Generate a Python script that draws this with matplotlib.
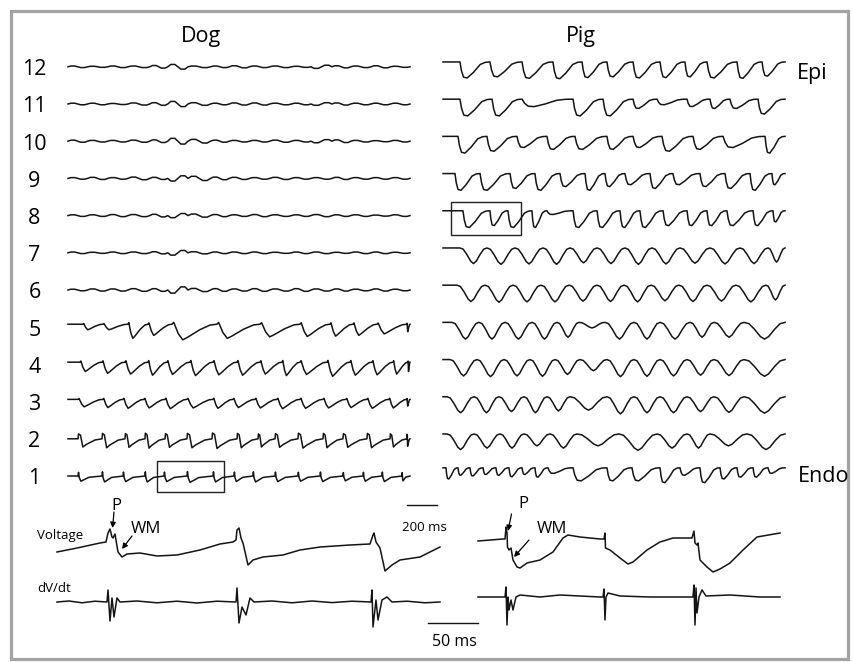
import matplotlib
matplotlib.use("Agg")
import matplotlib.pyplot as plt
from matplotlib.patches import Rectangle

# ---------------- data ----------------
T_END = 2280.0  # ms shown in each trace row

# beat templates (phase within a beat, relative amplitude)
DOG_TICK_T = [0.0, 0.02, 0.05, 0.12, 0.45, 1.0]
DOG_TICK_V = [0.0, 0.7, -0.3, -1.0, -0.25, 0.0]
DOG_STEP_T = [0.0, 0.02, 0.10, 0.20, 0.34, 0.70, 1.0]
DOG_STEP_V = [0.0, 0.6, 0.45, -1.0, -0.7, -0.15, 0.0]
DOG_SAW_T = [0.0, 0.04, 0.14, 0.24, 0.34, 0.62, 0.85, 1.0]
DOG_SAW_V = [0.0, 0.12, -0.6, -1.0, -0.85, -0.35, -0.05, 0.0]
RIPPLE_T = [0.0, 0.15, 0.35, 0.5, 0.65, 0.85, 1.0]
RIPPLE_V = [0.0, 0.7, 0.7, 0.0, -0.7, -0.7, 0.0]
PIG_U_T = [0.0, 0.12, 0.25, 0.40, 0.50, 0.60, 0.75, 0.88, 1.0]
PIG_U_V = [0.0, -0.08, -0.4, -0.85, -1.0, -0.85, -0.4, -0.08, 0.0]
PIG_DROP_T = [0.0, 0.05, 0.12, 0.24, 0.45, 0.68, 0.85, 1.0]
PIG_DROP_V = [0.0, -0.55, -0.95, -1.0, -0.65, -0.15, -0.02, 0.0]

# Dog rows 1-5: beat onsets (ms) and amplitudes (mV)
dog1_onsets = [67, 227, 367, 513, 640, 793, 967, 1107, 1233, 1380, 1533, 1680, 1833, 1967, 2093, 2227]
dog1_amps = [1.4, 1.6, 1.5, 1.6, 1.5, 1.7, 1.6, 1.5, 1.6, 1.5, 1.4, 1.5, 1.3, 1.4, 1.5, 1.3]
dog2_onsets = [67, 227, 380, 513, 647, 793, 960, 1127, 1267, 1380, 1533, 1700, 1833, 1993, 2147, 2260]
dog2_amps = [2.2, 2.4, 2.3, 2.5, 2.3, 2.4, 2.6, 2.4, 2.2, 2.3, 2.5, 2.4, 2.3, 2.4, 2.2, 2.0]
dog3_onsets = [67, 233, 367, 507, 647, 793, 967, 1100, 1247, 1393, 1547, 1700, 1853, 1993, 2140, 2260]
dog3_amps = [2.0, 2.2, 2.4, 2.3, 2.5, 2.3, 2.4, 2.2, 2.3, 2.5, 2.4, 2.3, 2.2, 2.4, 2.3, 1.8]
dog4_onsets = [80, 227, 380, 533, 660, 813, 967, 1127, 1280, 1427, 1547, 1727, 1880, 2027, 2167, 2267]
dog4_amps = [2.5, 3.0, 3.2, 3.5, 3.3, 3.6, 3.4, 3.5, 3.2, 3.6, 3.3, 3.8, 3.5, 3.4, 3.2, 2.5]
dog5_onsets = [100, 233, 400, 533, 693, 993, 1280, 1547, 1747, 1900, 2060, 2260]
dog5_amps = [1.5, 1.5, 3.8, 3.0, 4.2, 3.8, 3.4, 3.3, 3.2, 3.0, 2.6, 2.0]

# Dog rows 6-12: low-amplitude ripple
ripple_onsets = [0, 130, 265, 400, 545, 665, 800, 950, 1075, 1210, 1345, 1490, 1620, 1760, 1885, 2020, 2150]
dog6_amps = [0.3, 0.4, 0.4, 0.5, 0.5, -1.2, 0.6, 0.5, 0.4, 0.5, 0.4, 0.5, 0.4, 0.4, 0.3, 0.4, 0.3]
dog7_amps = [0.3, 0.2, 0.3, 0.3, 0.4, -0.9, 0.4, 0.3, 0.3, 0.3, 0.2, 0.3, 0.3, 0.2, 0.3, 0.3, 0.2]
dog8_amps = [0.3, 0.3, 0.4, 0.4, 0.5, -0.8, 0.6, 0.4, 0.3, 0.4, 0.3, 0.3, 0.4, 0.3, 0.3, 0.2, 0.3]
dog9_amps = [0.3, 0.4, 0.3, 0.5, 0.4, -1.0, 0.8, 0.5, 0.4, 0.3, 0.4, 0.3, 0.3, 0.4, 0.3, 0.3, 0.3]
dog10_amps = [0.4, 0.3, 0.3, 0.4, 0.5, 1.1, 0.7, 0.4, 0.3, 0.3, 0.4, 0.3, -0.6, 0.5, 0.3, 0.2, 0.3]
dog11_amps = [0.3, 0.3, 0.2, 0.4, 0.5, 1.0, 0.5, 0.3, 0.4, 0.4, 0.3, 0.3, -0.5, 0.4, 0.3, 0.3, 0.3]
dog12_amps = [0.3, 0.2, 0.3, 0.3, 0.5, 0.9, 0.3, 0.3, 0.4, 0.3, 0.3, 0.2, -0.6, 0.4, 0.3, 0.4, 0.2]

# Pig rows 1-12
pig1_onsets = [20, 100, 180, 267, 353, 440, 527, 613, 700, 867, 1093, 1260, 1447, 1580, 1713, 1847, 1960, 2067, 2167]
pig1_amps = [3.0, 2.0, 2.2, 1.8, 2.0, 2.4, 1.8, 2.5, 1.5, 3.5, 3.5, 3.5, 4.0, 2.0, 4.0, 3.0, 2.5, 2.5, 1.5]
pig2_onsets = [27, 207, 380, 540, 713, 893, 1173, 1427, 1627, 1780, 2027]
pig2_amps = [4.2, 3.8, 3.8, 3.2, 3.8, 3.2, 4.4, 3.8, 3.8, 3.2, 4.2]
pig3_onsets = [27, 207, 373, 540, 693, 847, 1093, 1273, 1447, 1627, 1807, 2007]
pig3_amps = [4.3, 4.3, 4.0, 4.3, 3.8, 3.6, 4.6, 4.3, 4.3, 4.0, 4.2, 4.4]
pig4_onsets = [47, 227, 407, 580, 747, 913, 1093, 1273, 1447, 1627, 1807, 2007]
pig4_amps = [4.4, 4.6, 4.4, 4.5, 4.0, 3.0, 4.6, 4.5, 4.4, 4.2, 4.3, 4.5]
pig5_onsets = [60, 240, 413, 593, 760, 907, 1080, 1273, 1447, 1647, 1807, 2007]
pig5_amps = [4.5, 4.5, 4.5, 4.5, 4.0, 1.5, 4.5, 4.5, 4.5, 4.0, 4.0, 4.5]
pig6_onsets = [93, 280, 467, 653, 840, 1027, 1207, 1387, 1573, 1760, 1953, 2153]
pig6_amps = [4.4, 4.6, 4.5, 4.5, 4.3, 4.4, 4.5, 4.2, 4.4, 4.3, 4.5, 4.0]
pig7_onsets = [113, 293, 480, 667, 847, 1027, 1213, 1393, 1580, 1780, 1980, 2167]
pig7_amps = [4.2, 4.4, 4.3, 4.4, 4.0, 4.2, 4.4, 4.3, 4.1, 4.3, 4.2, 3.8]
pig8_onsets = [133, 313, 433, 593, 693, 867, 1027, 1180, 1313, 1467, 1627, 1760, 1893, 2067, 2200]
pig8_amps = [4.5, 4.0, 4.5, 4.5, 1.0, 4.5, 4.5, 4.5, 4.5, 4.0, 4.0, 4.0, 4.0, 4.0, 3.0]
pig9_onsets = [80, 247, 447, 613, 780, 947, 1080, 1213, 1380, 1533, 1713, 1880, 2047, 2193]
pig9_amps = [4.5, 4.5, 4.0, 4.5, 3.5, 4.5, 3.5, 3.0, 4.0, 3.0, 3.5, 4.0, 4.5, 3.0]
pig10_onsets = [100, 293, 493, 693, 880, 1093, 1267, 1460, 1667, 1867, 2147]
pig10_amps = [4.5, 4.0, 3.0, 3.5, 3.5, 3.5, 3.0, 4.0, 3.5, 3.0, 4.5]
pig11_onsets = [113, 327, 527, 867, 1067, 1267, 1427, 1627, 1780, 1913, 2100]
pig11_amps = [4.5, 4.5, 2.0, 4.5, 4.5, 2.5, 1.5, 2.0, 2.5, 2.5, 4.0]
pig12_onsets = [113, 313, 527, 733, 927, 1093, 1267, 1447, 1613, 1760, 1960, 2127]
pig12_amps = [4.3, 4.0, 4.4, 4.5, 4.2, 4.0, 4.3, 4.2, 4.0, 4.3, 4.4, 3.8]

# Bottom insets: dog voltage (ms, mV) and dV/dt (ms, V/s)
dog_v_t = [0, 20, 43, 49, 51, 53, 55, 56, 58, 61, 65, 70, 83, 100, 120, 143, 163, 176, 179, 180, 182,
           184, 186, 191, 196, 206, 226, 243, 263, 293, 313, 316, 317, 319, 321, 323, 328, 335, 343, 363, 383]
dog_v_mv = [0, 1.0, 2.25, 2.5, 4.75, 5.75, 3.75, 3.5, 4.5, 0, -1.25, -0.5, -0.25, -1.0, -0.75, 0.5, 2.0,
            2.5, 3.0, 5.5, 6.0, 3.5, 2.25, -3.25, -2.0, -1.25, -0.75, 0.5, 1.25, 1.75, 2.0, 4.25, 4.75,
            2.5, 1.75, 1.0, -4.75, -3.25, -2.0, -1.25, 1.25]
dog_d_t = [0, 12, 25, 38, 50, 51, 53, 55, 57, 60, 63, 80, 100, 120, 140, 160, 179, 180, 182, 185, 189,
           193, 197, 215, 235, 255, 275, 295, 314, 315, 316, 319, 321, 325, 330, 335, 350, 368, 383]
dog_d_vs = [0, 0.5, -0.4, 0.4, 0, 6, -9.5, 2, -7.5, 2, 0, 0.5, -0.4, 0.4, -0.5, 0.4, 0, 7, -10.5, -2.5,
            -6.5, 2, 0, 0.5, -0.4, 0.5, -0.3, 0.4, 0, 6, -12.5, 1, -9, 1, 2.5, 0, 0.4, -0.4, 0]
# Pig voltage and dV/dt
pig_v_t = [0, 25, 27, 28, 29, 29.5, 31, 33, 35, 39, 42, 49, 62, 75, 85, 90, 102, 122, 126, 127, 127.5,
           132, 142, 150, 155, 169, 182, 195, 214, 216, 217, 219, 220, 222, 229, 235, 242, 252, 265, 279, 302]
pig_v_mv = [0, 0.5, 0.5, 3.5, 2.0, -1.5, -2.25, -1.75, -4.75, -6.5, -6.75, -5.5, -4.75, -2.75, 0.75, 1.5,
            1.0, 0.5, 0.5, 2.0, -1.75, -2.25, -4.25, -5.75, -5.25, -2.25, -0.25, 0.75, 0.75, 2.5, -0.5,
            -1.0, -0.5, -4.75, -6.5, -7.75, -7.0, -5.5, -2.25, 1.0, 2.0]
pig_d_t = [0, 27, 28, 29, 30, 31, 33, 35, 38, 42, 62, 82, 102, 122, 125, 126, 127, 128, 130, 142, 172,
           212, 215, 216, 217, 218, 219, 221, 224, 228, 252, 282, 302]
pig_d_vs = [0, 0, 5, -14, 0, -6.5, -1.5, -6.5, 0, 1, 0, 1, 0.5, 0, 0, 4, -11.5, 0, 2, 0.5, 0, 0, 0, 6,
            -14, 4.5, -8, 0, 3.5, 0.5, 1, 0, 0]

CHANNELS = list(range(1, 13))
TITLES = ["Dog", "Pig"]
SCALE_LONG_MS = 200
SCALE_SHORT_MS = 50

# ---------------- figure ----------------
W, H = 854, 662
DPI = 100
plt.rcParams['font.family'] = ['Open Sans', 'DejaVu Sans']
fig = plt.figure(figsize=(W / DPI, H / DPI), dpi=DPI)
fig.patch.set_facecolor('white')

TRACE_C = '#141414'
LW = 1.1


def px_axes(x0, x1, y0, y1):
    ax = fig.add_axes([x0 / W, 1 - y1 / H, (x1 - x0) / W, (y1 - y0) / H])
    ax.axis('off')
    return ax


def build(onsets, amps, tt, tv):
    ts, vs = [0.0], [0.0]
    bounds = list(onsets) + [T_END]
    for i, (on, a) in enumerate(zip(onsets, amps)):
        dur = bounds[i + 1] - on
        for p, v in zip(tt, tv):
            ts.append(on + p * dur)
            vs.append(a * v)
    return ts, vs


def px2data(ax, x, y):
    return ax.transData.inverted().transform((x, H - y))


# overlay for frame / labels
ov = fig.add_axes([0, 0, 1, 1], zorder=-1)
ov.set_xlim(0, W)
ov.set_ylim(H, 0)
ov.axis('off')
ov.add_patch(Rectangle((11, 10.5), 837, 648, fill=False, ec='#a3a3a3', lw=2.3))

# panel geometry
ROW1_Y = 476.0
ROW_SP = 37.2
MV_SP = 10.0          # mV between channels
PX_PER_MV = ROW_SP / MV_SP
TOP, BOT = 40, 512


def panel(x0):
    ax = px_axes(x0, x0 + 342, TOP, BOT)
    y_zero = ROW1_Y + ROW_SP  # pixel of 0 mV
    ax.set_xlim(0, T_END)
    ax.set_ylim((y_zero - BOT) / PX_PER_MV, (y_zero - TOP) / PX_PER_MV)
    return ax


ax_dog = panel(68)
ax_pig = panel(443)

dog_rows = {
    1: build(dog1_onsets, dog1_amps, DOG_TICK_T, DOG_TICK_V),
    2: build(dog2_onsets, dog2_amps, DOG_STEP_T, DOG_STEP_V),
    3: build(dog3_onsets, dog3_amps, DOG_SAW_T, DOG_SAW_V),
    4: build(dog4_onsets, dog4_amps, DOG_SAW_T, DOG_SAW_V),
    5: build(dog5_onsets, dog5_amps, DOG_SAW_T, DOG_SAW_V),
    6: build(ripple_onsets, dog6_amps, RIPPLE_T, RIPPLE_V),
    7: build(ripple_onsets, dog7_amps, RIPPLE_T, RIPPLE_V),
    8: build(ripple_onsets, dog8_amps, RIPPLE_T, RIPPLE_V),
    9: build(ripple_onsets, dog9_amps, RIPPLE_T, RIPPLE_V),
    10: build(ripple_onsets, dog10_amps, RIPPLE_T, RIPPLE_V),
    11: build(ripple_onsets, dog11_amps, RIPPLE_T, RIPPLE_V),
    12: build(ripple_onsets, dog12_amps, RIPPLE_T, RIPPLE_V),
}
dog_offset = {1: 0.0, 2: 0.0, 3: 0.6, 4: 0.6, 5: 0.8}
pig_rows = {
    1: build(pig1_onsets, pig1_amps, PIG_DROP_T, PIG_DROP_V),
    2: build(pig2_onsets, pig2_amps, PIG_U_T, PIG_U_V),
    3: build(pig3_onsets, pig3_amps, PIG_U_T, PIG_U_V),
    4: build(pig4_onsets, pig4_amps, PIG_U_T, PIG_U_V),
    5: build(pig5_onsets, pig5_amps, PIG_U_T, PIG_U_V),
    6: build(pig6_onsets, pig6_amps, PIG_U_T, PIG_U_V),
    7: build(pig7_onsets, pig7_amps, PIG_U_T, PIG_U_V),
    8: build(pig8_onsets, pig8_amps, PIG_DROP_T, PIG_DROP_V),
    9: build(pig9_onsets, pig9_amps, PIG_DROP_T, PIG_DROP_V),
    10: build(pig10_onsets, pig10_amps, PIG_DROP_T, PIG_DROP_V),
    11: build(pig11_onsets, pig11_amps, PIG_DROP_T, PIG_DROP_V),
    12: build(pig12_onsets, pig12_amps, PIG_DROP_T, PIG_DROP_V),
}

for ch in CHANNELS:
    ts, vs = dog_rows[ch]
    off = dog_offset.get(ch, 0.0)
    ax_dog.plot(ts, [MV_SP * ch + off + v for v in vs], color=TRACE_C, lw=LW, clip_on=False,
                solid_joinstyle='round')
    ts, vs = pig_rows[ch]
    off = 2.2 if ch == 1 else 1.3
    ax_pig.plot(ts, [MV_SP * ch + off + v for v in vs], color=TRACE_C, lw=LW, clip_on=False,
                solid_joinstyle='round')
    # channel label
    yl = ROW1_Y - ROW_SP * (ch - 1)
    ov.text(34.5, yl + 3, str(ch), ha='center', va='center', fontsize=15.5)

ov.text(201, 42, TITLES[0], ha='center', va='baseline', fontsize=15.5)
ov.text(581, 42, TITLES[1], ha='center', va='baseline', fontsize=15.5)
ov.text(797, 79, "Epi", ha='left', va='baseline', fontsize=15.5)
ov.text(798, 482, "Endo", ha='left', va='baseline', fontsize=15.5)

# highlight boxes
ov.add_patch(Rectangle((157, 461), 67, 31, fill=False, ec='#222222', lw=1.0))
ov.add_patch(Rectangle((451, 202), 70, 33, fill=False, ec='#222222', lw=1.0))

# 200 ms scale bar (in dog panel data units)
x0d, y0d = px2data(ax_dog, 407, 505)
ax_dog.plot([x0d, x0d + SCALE_LONG_MS], [y0d, y0d], color=TRACE_C, lw=1.0, clip_on=False)
ov.text(424.5, 531, f"{SCALE_LONG_MS} ms", ha='center', va='baseline', fontsize=9.5)


# insets
def inset(x0, x1, y0, y1, zero_y, px_per_unit, tmax):
    ax = px_axes(x0, x1, y0, y1)
    ax.set_xlim(0, tmax)
    ax.set_ylim((zero_y - y1) / px_per_unit, (zero_y - y0) / px_per_unit)
    return ax


ax_dv = inset(57, 440, 515, 580, 552, 4.0, 383)
ax_dd = inset(57, 440, 582, 632, 602, 2.0, 383)
ax_pv = inset(478, 780, 515, 580, 541, 4.0, 302)
ax_pd = inset(478, 780, 578, 632, 597, 2.0, 302)
ax_dv.plot(dog_v_t, dog_v_mv, color=TRACE_C, lw=LW, clip_on=False)
ax_dd.plot(dog_d_t, dog_d_vs, color=TRACE_C, lw=LW, clip_on=False)
ax_pv.plot(pig_v_t, pig_v_mv, color=TRACE_C, lw=LW, clip_on=False)
ax_pd.plot(pig_d_t, pig_d_vs, color=TRACE_C, lw=LW, clip_on=False)

# 50 ms scale bar
x0s, y0s = px2data(ax_dd, 428, 623)
ax_dd.plot([x0s, x0s + SCALE_SHORT_MS], [y0s, y0s], color=TRACE_C, lw=1.0, clip_on=False)
ov.text(454, 646, f"{SCALE_SHORT_MS} ms", ha='center', va='baseline', fontsize=11.5)

ov.text(37, 539, "Voltage", ha='left', va='baseline', fontsize=9.5)
ov.text(37, 592, "dV/dt", ha='left', va='baseline', fontsize=9.5)

arrow = dict(arrowstyle='-|>', color='black', lw=0.9, mutation_scale=8, shrinkA=0, shrinkB=0)
ov.text(116, 510, "P", ha='center', va='baseline', fontsize=12)
ov.annotate('', xy=(112.5, 528), xytext=(114, 512), arrowprops=arrow)
ov.text(131, 533, "WM", ha='left', va='baseline', fontsize=12)
ov.annotate('', xy=(122, 549), xytext=(132, 536), arrowprops=arrow)
ov.text(523, 508, "P", ha='center', va='baseline', fontsize=12)
ov.annotate('', xy=(508, 531), xytext=(511.5, 514), arrowprops=arrow)
ov.text(537, 533, "WM", ha='left', va='baseline', fontsize=12)
ov.annotate('', xy=(514, 557), xytext=(529, 540), arrowprops=arrow)

fig.savefig("out.png", dpi=DPI, facecolor='white')
